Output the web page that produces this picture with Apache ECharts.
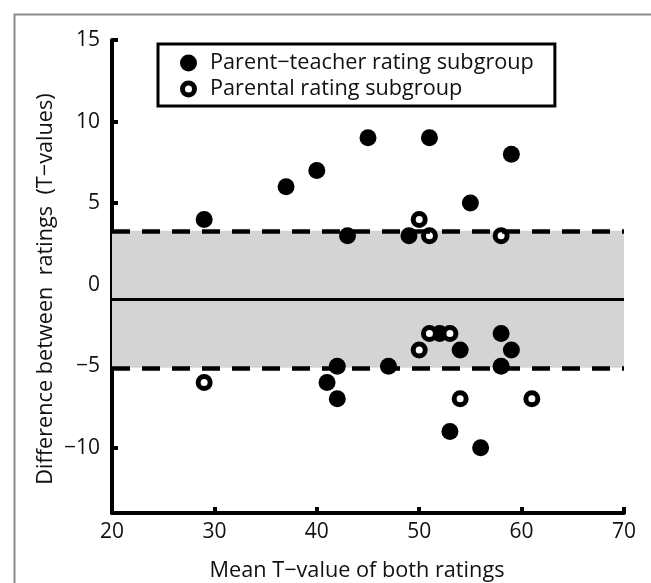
<!DOCTYPE html>
<html>
<head>
<meta charset="utf-8">
<script src="https://cdn.jsdelivr.net/npm/echarts@6/dist/echarts.min.js"></script>
<style>
html,body{margin:0;padding:0;background:#fff;}
#chart{width:651px;height:583px;}
</style>
</head>
<body>
<div id="chart"></div>
<script>
// ---- data ----
var xTicks = [20, 30, 40, 50, 60, 70];
var yTicks = [-10, -5, 0, 5, 10, 15];
var seriesNames = ['Parent\u2212teacher rating subgroup', 'Parental rating subgroup'];
var parentTeacher = [[29,4],[37,6],[40,7],[45,9],[51,9],[59,8],[55,5],[43,3],[49,3],[52,-3],[54,-4],[58,-3],[59,-4],[58,-5],[42,-5],[47,-5],[41,-6],[42,-7],[53,-9],[56,-10]];
var parental = [[50,4],[51,3],[58,3],[51,-3],[53,-3],[50,-4],[29,-6],[54,-7],[61,-7]];
var meanDiff = -0.9;
var upperLoA = 3.3;
var lowerLoA = -5.1;
var xTitle = 'Mean T\u2212value of both ratings';
var yTitle = 'Difference between  ratings  (T\u2212values)';

var FONT = 'Open Sans';
var chart = echarts.init(document.getElementById('chart'), null, {renderer: 'canvas'});
var ring = 'path://M0,-8.5A8.5,8.5 0 1,1 0,8.5A8.5,8.5 0 1,1 0,-8.5Z M0,-3.5A3.5,3.5 0 1,0 0,3.5A3.5,3.5 0 1,0 0,-3.5Z';

function fmt(v){ return String(v).replace('-', '\u2212'); }

var option = {
  animation: false,
  backgroundColor: '#fff',
  grid: {left: 112, right: 27, top: 40, bottom: 70, containLabel: false},
  xAxis: {
    type: 'value', min: 20, max: 70, interval: 10,
    axisLine: {onZero: false, lineStyle: {color: '#000', width: 4}},
    axisTick: {inside: true, length: 6, lineStyle: {color: '#000', width: 4}},
    axisLabel: {margin: 9, fontFamily: FONT, fontSize: 21, color: '#111', formatter: fmt},
    splitLine: {show: false}
  },
  yAxis: {
    type: 'value', min: -14, max: 15,
    axisLine: {show: true, onZero: false, lineStyle: {color: '#000', width: 4}},
    axisTick: {show: true, inside: true, length: 6, customValues: yTicks, lineStyle: {color: '#000', width: 4}},
    axisLabel: {margin: 12, fontFamily: FONT, fontSize: 21, color: '#111', customValues: yTicks, formatter: fmt},
    splitLine: {show: false}
  },
  legend: {
    orient: 'vertical', left: 158, top: 44,
    padding: [8, 21, 6, 22],
    borderColor: '#000', borderWidth: 3, backgroundColor: '#fff',
    itemGap: 4, itemWidth: 17, itemHeight: 17,
    textStyle: {fontFamily: FONT, fontSize: 21.7, lineHeight: 21, color: '#111', padding: [0, 0, 0, 8]},
    data: [
      {name: seriesNames[0], icon: 'circle', itemStyle: {color: '#000', borderWidth: 0}},
      {name: seriesNames[1], icon: ring, itemStyle: {color: '#000', borderWidth: 0}}
    ],
    selectedMode: false
  },
  series: [
    {
      type: 'scatter', data: [], z: 1, silent: true,
      markArea: {silent: true, itemStyle: {color: '#d4d4d4'}, label: {show: false},
        data: [[{yAxis: upperLoA}, {yAxis: lowerLoA}]]}
    },
    {
      type: 'scatter', data: [], z: 2, silent: true,
      markLine: {silent: true, symbol: 'none', label: {show: false},
        data: [
          {yAxis: upperLoA, lineStyle: {color: '#000', width: 4.5, type: [18, 12]}},
          {yAxis: lowerLoA, lineStyle: {color: '#000', width: 4.5, type: [18, 12]}},
          {yAxis: meanDiff, lineStyle: {color: '#000', width: 3, type: 'solid'}}
        ]}
    },
    {
      name: seriesNames[0], type: 'scatter', z: 3, data: parentTeacher,
      symbol: 'circle', symbolSize: 17, itemStyle: {color: '#000', opacity: 1}
    },
    {
      name: seriesNames[1], type: 'scatter', z: 4, data: parental,
      symbol: 'circle', symbolSize: 12, itemStyle: {color: '#fff', borderColor: '#000', borderWidth: 5, opacity: 1}
    }
  ],
  graphic: [
    {type: 'rect', left: 12, top: 12, silent: true, z: -10,
      shape: {x: 0, y: 0, width: 800, height: 800},
      style: {fill: null, stroke: '#8a8a8a', lineWidth: 2}},
    {type: 'text', x: 357, y: 571, silent: true,
      style: {text: xTitle, fontFamily: FONT, fontSize: 21.7, fill: '#111', textAlign: 'center', textVerticalAlign: 'middle'}},
    {type: 'text', x: 46, y: 289, rotation: Math.PI / 2, silent: true,
      style: {text: yTitle, fontFamily: FONT, fontSize: 21.7, fill: '#111', textAlign: 'center', textVerticalAlign: 'middle'}}
  ]
};
chart.setOption(option);
</script>
</body>
</html>
